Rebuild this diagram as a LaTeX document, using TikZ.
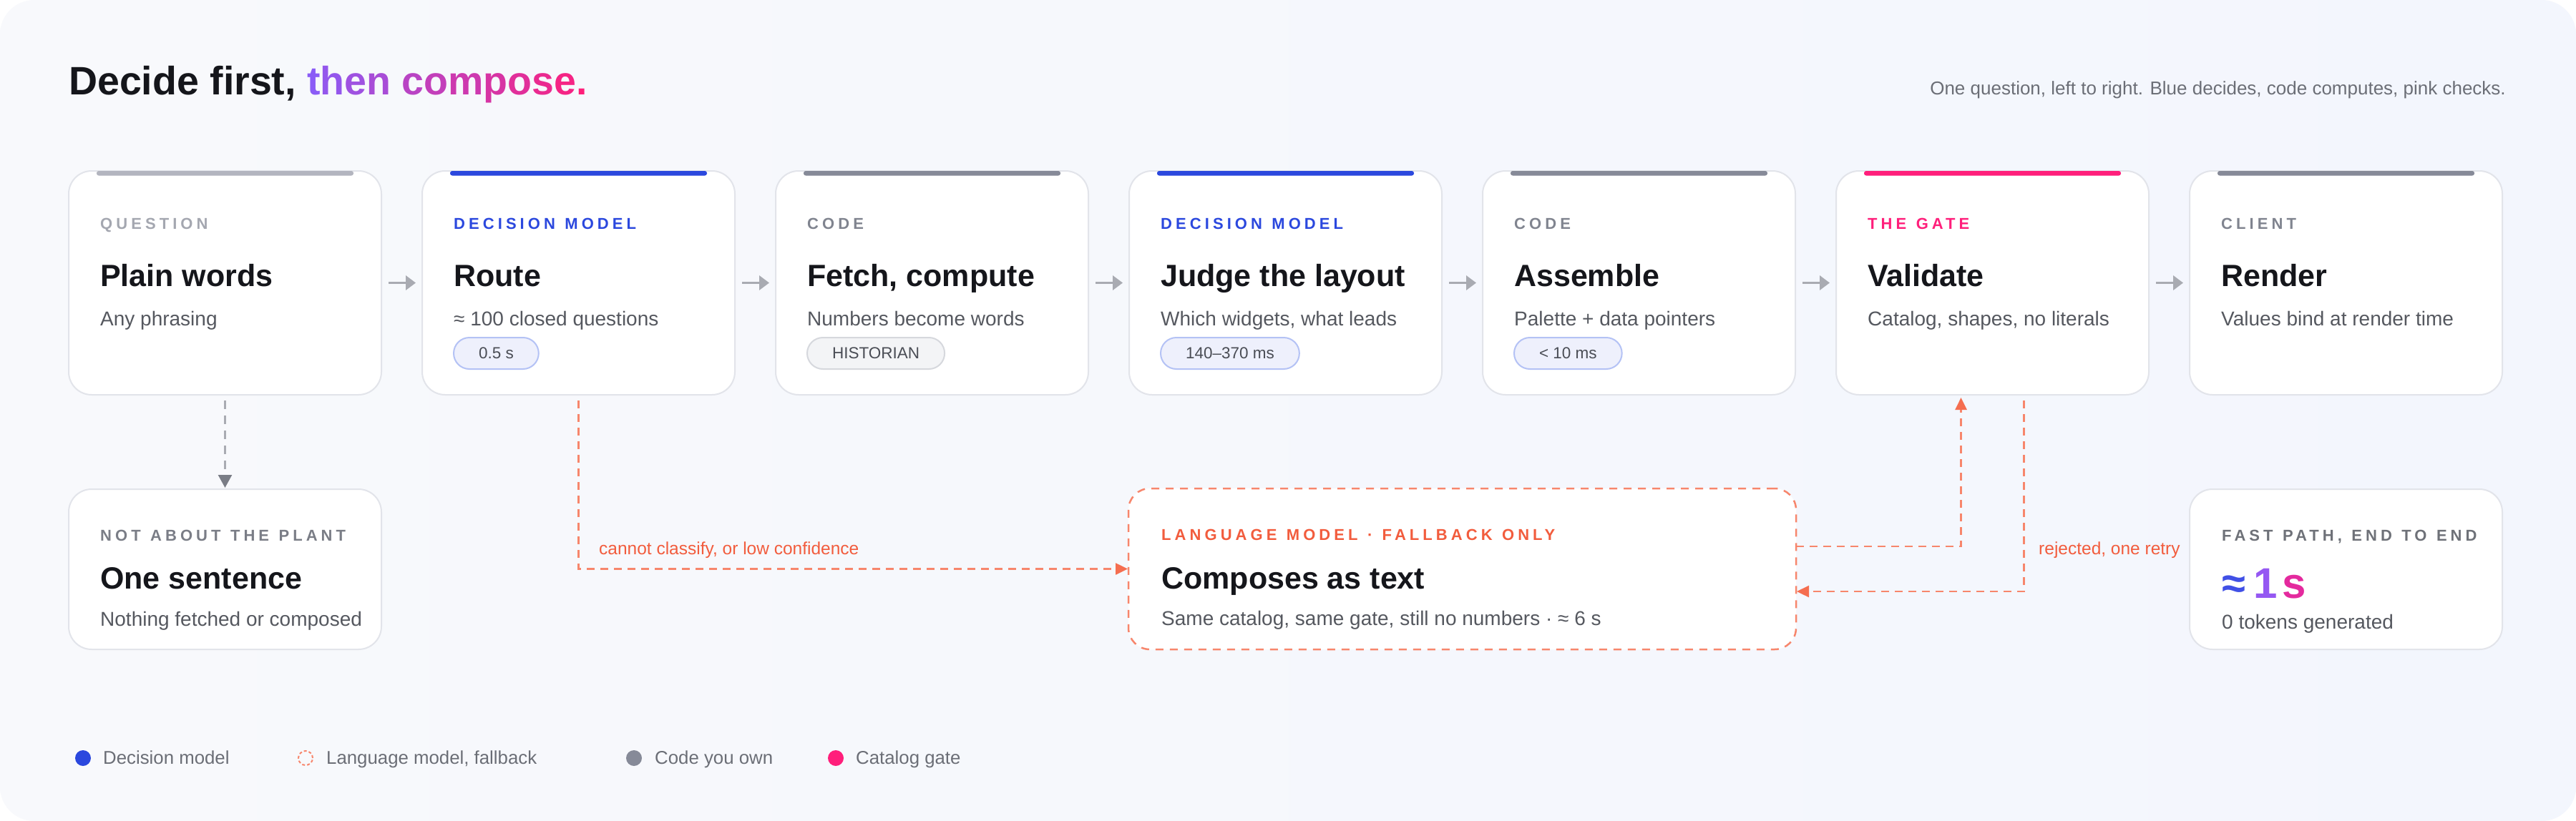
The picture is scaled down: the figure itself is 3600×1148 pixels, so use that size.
\documentclass[tikz,border=0pt]{standalone}
\usepackage{fontspec}
\setmainfont{Liberation Sans}
\newfontfamily\labfont{Liberation Sans}[LetterSpace=23, WordSpace=1.2]
\usetikzlibrary{arrows.meta,calc}
\definecolor{bgl}{HTML}{F8F9FC}
\definecolor{bgr}{HTML}{F3F6FD}
\definecolor{cardline}{HTML}{E2E4EA}
\definecolor{ink}{HTML}{15161B}
\definecolor{subg}{HTML}{55585F}
\definecolor{blueC}{HTML}{2B48DE}
\definecolor{pinkC}{HTML}{FF1F7B}
\definecolor{codeC}{HTML}{868A98}
\definecolor{qbar}{HTML}{B3B5BF}
\definecolor{qlab}{HTML}{A4A7B0}
\definecolor{codelab}{HTML}{80848F}
\definecolor{notlab}{HTML}{7A7D86}
\definecolor{fastlab}{HTML}{6E7178}
\definecolor{oline}{HTML}{F7866C}
\definecolor{otext}{HTML}{F25C3D}
\definecolor{ohead}{HTML}{F56E50}
\definecolor{arrowg}{HTML}{A9ABB2}
\definecolor{arrowd}{HTML}{7A7D86}
\definecolor{pillbf}{HTML}{EEF0FC}
\definecolor{pillbd}{HTML}{B4C2F5}
\definecolor{pillgf}{HTML}{F3F4F6}
\definecolor{pillgd}{HTML}{D6D8DD}
\definecolor{pilltext}{HTML}{4A4D55}
\definecolor{subtitle}{HTML}{6B6E76}
\definecolor{gA}{HTML}{8B5CF6}
\definecolor{gB}{HTML}{FF1F7A}
\definecolor{gblue}{HTML}{4050E6}
\definecolor{gpurp}{HTML}{9558F2}
\definecolor{gpink}{HTML}{E42A9E}
\begin{document}
\begin{tikzpicture}[x=1pt,y=-1pt,
  card/.style={draw=cardline, line width=2pt, fill=white, rounded corners=32pt,
    minimum width=437pt, minimum height=313pt, inner sep=0pt, outer sep=0pt, anchor=north west},
  lowcard/.style={card, minimum height=224pt},
  lmbox/.style={draw=oline, line width=2.5pt, dash pattern=on 11pt off 9pt, fill=white,
    rounded corners=30pt, minimum width=933pt, minimum height=225pt, inner sep=0pt, outer sep=0pt, anchor=north west},
  lab/.style={anchor=base west, inner sep=0pt, font=\labfont\bfseries\fontsize{22}{24}\selectfont},
  ttl/.style={anchor=base west, inner sep=0pt, text=ink, font=\bfseries\fontsize{43}{48}\selectfont},
  sub/.style={anchor=base west, inner sep=0pt, text=subg, font=\fontsize{28}{31}\selectfont},
  pill/.style={anchor=north west, rounded corners=22pt, minimum height=44pt, inner xsep=35pt, inner ysep=0pt,
    line width=2pt, text=pilltext, font=\fontsize{22.5}{24}\selectfont},
  pillb/.style={pill, draw=pillbd, fill=pillbf},
  pillg/.style={pill, draw=pillgd, fill=pillgf},
  flow/.style={draw=arrowg, line width=3.5pt, -{Triangle[length=14pt,width=20pt]}, shorten <=10pt, shorten >=9pt},
  gdash/.style={draw=arrowg, line width=2.5pt, dash pattern=on 12pt off 9pt,
    -{Triangle[length=18pt,width=19pt,color=arrowd]}, shorten <=8pt, shorten >=2pt},
  odash/.style={draw=oline, line width=2.5pt, dash pattern=on 11pt off 8pt,
    -{Triangle[length=17pt,width=16pt,color=ohead]}},
  olab/.style={anchor=base west, inner sep=0pt, text=otext, font=\fontsize{24.5}{27}\selectfont},
  leg/.style={anchor=base west, inner sep=0pt, text=subtitle, font=\fontsize{25.8}{28}\selectfont},
  bar/.style={rounded corners=3pt}
]
\useasboundingbox (0,0) rectangle (3600,1148);
\fill[white] (0,0) rectangle (3600,1148);
\shade[left color=bgl, right color=bgr, rounded corners=48pt] (0,0) rectangle (3600,1148);

% title
\node[anchor=base west, inner sep=0pt, text=ink, font=\bfseries\fontsize{55.5}{60}\selectfont] (title) at (96,132)
 {Decide first, \textcolor{gB!0!gA}{t}\textcolor{gB!8!gA}{h}\textcolor{gB!17!gA}{e}\textcolor{gB!25!gA}{n} \textcolor{gB!40!gA}{c}\textcolor{gB!48!gA}{o}\textcolor{gB!57!gA}{m}\textcolor{gB!66!gA}{p}\textcolor{gB!74!gA}{o}\textcolor{gB!82!gA}{s}\textcolor{gB!91!gA}{e}\textcolor{gB!100!gA}{.}};
\node[anchor=base east, inner sep=0pt, text=subtitle, font=\fontsize{26}{30}\selectfont] (subt) at (3502,132)
 {One question, left to right. Blue decides, code computes, pink checks.};

% top cards
\node[card] (c1) at (96,239) {};
\node[card] (c2) at (590,239) {};
\node[card] (c3) at (1084,239) {};
\node[card] (c4) at (1578,239) {};
\node[card] (c5) at (2072,239) {};
\node[card] (c6) at (2566,239) {};
\node[card] (c7) at (3060,239) {};

\foreach \c/\col in {c1/qbar,c2/blueC,c3/codeC,c4/blueC,c5/codeC,c6/pinkC,c7/codeC}{
  \fill[\col, bar] ($(\c.north west)+(39,0)$) rectangle ($(\c.north east)+(-39,6.5)$);
}

% card texts
\node[lab, text=qlab] (c1l) at ($(c1.north west)+(44,81)$) {QUESTION};
\node[ttl] (c1t) at ($(c1.north west)+(44,161)$) {Plain words};
\node[sub] (c1s) at ($(c1.north west)+(44,216)$) {Any phrasing};

\node[lab, text=blueC] (c2l) at ($(c2.north west)+(44,81)$) {DECISION MODEL};
\node[ttl] (c2t) at ($(c2.north west)+(44,161)$) {Route};
\node[sub] (c2s) at ($(c2.north west)+(44,216)$) {≈ 100 closed questions};
\node[pillb] (c2p) at ($(c2.north west)+(43,232)$) {0.5 s};

\node[lab, text=codelab] (c3l) at ($(c3.north west)+(44,81)$) {CODE};
\node[ttl] (c3t) at ($(c3.north west)+(44,161)$) {Fetch, compute};
\node[sub] (c3s) at ($(c3.north west)+(44,216)$) {Numbers become words};
\node[pillg] (c3p) at ($(c3.north west)+(43,232)$) {HISTORIAN};

\node[lab, text=blueC] (c4l) at ($(c4.north west)+(44,81)$) {DECISION MODEL};
\node[ttl] (c4t) at ($(c4.north west)+(44,161)$) {Judge the layout};
\node[sub] (c4s) at ($(c4.north west)+(44,216)$) {Which widgets, what leads};
\node[pillb] (c4p) at ($(c4.north west)+(43,232)$) {140–370 ms};

\node[lab, text=codelab] (c5l) at ($(c5.north west)+(44,81)$) {CODE};
\node[ttl] (c5t) at ($(c5.north west)+(44,161)$) {Assemble};
\node[sub] (c5s) at ($(c5.north west)+(44,216)$) {Palette + data pointers};
\node[pillb] (c5p) at ($(c5.north west)+(43,232)$) {< 10 ms};

\node[lab, text=pinkC] (c6l) at ($(c6.north west)+(44,81)$) {THE GATE};
\node[ttl] (c6t) at ($(c6.north west)+(44,161)$) {Validate};
\node[sub] (c6s) at ($(c6.north west)+(44,216)$) {Catalog, shapes, no literals};

\node[lab, text=codelab] (c7l) at ($(c7.north west)+(44,81)$) {CLIENT};
\node[ttl] (c7t) at ($(c7.north west)+(44,161)$) {Render};
\node[sub] (c7s) at ($(c7.north west)+(44,216)$) {Values bind at render time};

% flow arrows
\foreach \a/\b in {c1/c2,c2/c3,c3/c4,c4/c5,c5/c6,c6/c7}{
  \draw[flow] (\a.east) -- (\b.west);
}

% bottom row
\node[lowcard] (n1) at (96,684) {};
\node[lab, text=notlab] (n1l) at ($(n1.north west)+(44,72)$) {NOT ABOUT THE PLANT};
\node[ttl] (n1t) at ($(n1.north west)+(44,139)$) {One sentence};
\node[sub] (n1s) at ($(n1.north west)+(44,191)$) {Nothing fetched or composed};

\node[lmbox] (lm) at (1577,683) {};
\node[lab, text=otext] (lml) at ($(lm.north west)+(46,72)$) {LANGUAGE MODEL · FALLBACK ONLY};
\node[ttl] (lmt) at ($(lm.north west)+(46,140)$) {Composes as text};
\node[sub] (lms) at ($(lm.north west)+(46,191)$) {Same catalog, same gate, still no numbers · ≈ 6 s};

\node[lowcard] (fp) at (3060,684) {};
\node[lab, text=fastlab] (fpl) at ($(fp.north west)+(45,72)$) {FAST PATH, END TO END};
\node[anchor=base west, inner sep=0pt, font=\bfseries\fontsize{60}{64}\selectfont] (fpv) at ($(fp.north west)+(45,152)$)
 {\textcolor{gblue}{≈}\hspace{11pt}\textcolor{gpurp}{1}\hspace{7pt}\textcolor{gpink}{s}};
\node[sub] (fps) at ($(fp.north west)+(45,195)$) {0 tokens generated};

% connectors
\draw[gdash] (c1.south) -- (n1.north);
\draw[odash, shorten <=8pt, shorten >=1pt] (c2.south) |- (lm.west);
\node[olab] (rlab) at (837,775) {cannot classify, or low confidence};

\coordinate (lmo) at ($(lm.east)+(0,-31.5)$);
\coordinate (vin) at ($(c6.south)+(-44,0)$);
\draw[odash, shorten >=4pt] (lmo) -| (vin);

\coordinate (vout) at ($(c6.south)+(44,0)$);
\coordinate (lmi) at ($(lm.east)+(0,31.5)$);
\draw[odash, shorten <=8pt, shorten >=1pt] (vout) |- (lmi);
\node[olab] (rjlab) at (2849,775) {rejected, one retry};

% legend
\fill[blueC] (116,1060) circle (11pt);
\node[leg] (lg1) at (144,1068) {Decision model};
\draw[oline, line width=2pt, dash pattern=on 4pt off 3pt] (427,1060) circle (10pt);
\node[leg] (lg2) at (456,1068) {Language model, fallback};
\fill[codeC] (886,1060) circle (11pt);
\node[leg] (lg3) at (915,1068) {Code you own};
\fill[pinkC] (1168,1060) circle (11pt);
\node[leg] (lg4) at (1196,1068) {Catalog gate};
\end{tikzpicture}
\end{document}
